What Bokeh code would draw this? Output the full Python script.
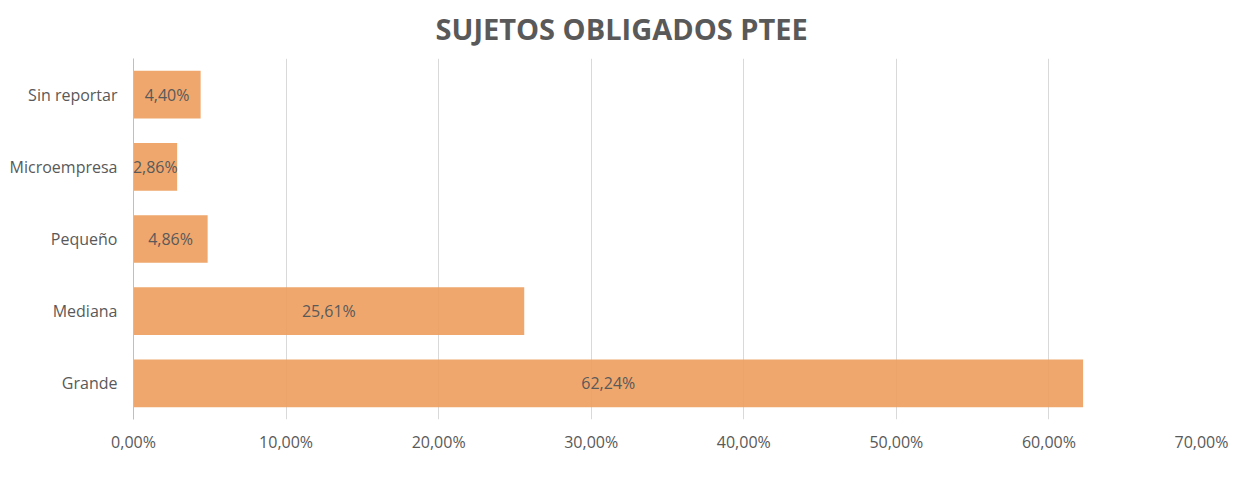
from bokeh.plotting import figure
from bokeh.models import ColumnDataSource, FactorRange, Range1d, FixedTicker, Legend, LegendItem, LabelSet, Title
from bokeh.embed import file_html
from bokeh.resources import INLINE
from bokeh.core.properties import value

categories = ["Grande", "Mediana", "Pequeño", "Microempresa", "Sin reportar"]
values = [62.24, 25.61, 4.86, 2.86, 4.40]
labels = ["62,24%", "25,61%", "4,86%", "2,86%", "4,40%"]
tick_values = [0, 10, 20, 30, 40, 50, 60, 70]
tick_labels = ["0,00%", "10,00%", "20,00%", "30,00%", "40,00%", "50,00%", "60,00%", "70,00%"]
series_name = "Sujetos Obligados PTEE"
title_text = "SUJETOS OBLIGADOS PTEE"

FONT = "Open Sans"
GRAY = "#595959"
BAR = "#EE9F62"

src = ColumnDataSource(dict(cat=categories, val=values, lab=labels,
                            mid=[v / 2 for v in values]))

p = figure(frame_width=1068, frame_height=361, y_range=FactorRange(*categories),
           x_range=Range1d(0, 70), output_backend="svg", toolbar_location=None,
           min_border_left=133, min_border_right=39, min_border_top=0,
           min_border_bottom=0)
p.outline_line_color = None
p.background_fill_color = "white"
p.border_fill_color = "white"

r = p.hbar(y="cat", right="val", left=0, height=0.66, source=src,
           fill_color=BAR, fill_alpha=0.92, line_color=None)

p.add_layout(LabelSet(x="mid", y="cat", text="lab", source=src,
                      text_align="center", text_baseline="middle",
                      text_font=value(FONT), text_font_size="16px",
                      text_color=GRAY))

p.xaxis.ticker = FixedTicker(ticks=tick_values)
p.xaxis.major_label_overrides = {v: l for v, l in zip(tick_values, tick_labels)}
p.xaxis.axis_line_color = None
p.xaxis.major_tick_line_color = None
p.xaxis.minor_tick_line_color = None
p.xaxis.major_tick_out = 0
p.xaxis.major_tick_in = 0
p.xaxis.minor_tick_out = 0
p.xaxis.major_label_standoff = 11
p.xaxis.major_label_text_font = FONT
p.xaxis.major_label_text_font_size = "16px"
p.xaxis.major_label_text_color = GRAY

p.yaxis.axis_line_color = "#BFBFBF"
p.yaxis.major_tick_line_color = None
p.yaxis.minor_tick_line_color = None
p.yaxis.major_tick_out = 0
p.yaxis.major_tick_in = 0
p.yaxis.minor_tick_out = 0
p.yaxis.major_label_standoff = 16
p.yaxis.major_label_text_font = FONT
p.yaxis.major_label_text_font_size = "16px"
p.yaxis.major_label_text_color = GRAY

p.xgrid.grid_line_color = "#D9D9D9"
p.ygrid.grid_line_color = None
p.y_range.range_padding = 0

title = Title(text=title_text, align="left", offset=302, vertical_align="top",
              text_font=FONT, text_font_size="29px", text_font_style="bold",
              text_color=GRAY, standoff=17)
p.add_layout(title, "above")

legend = Legend(items=[LegendItem(label=series_name, renderers=[r])],
                location=(404, 0), orientation="horizontal",
                label_text_font=FONT, label_text_font_size="16px",
                label_text_color=GRAY, border_line_color=None,
                background_fill_alpha=0, padding=0, margin=0,
                glyph_width=11, glyph_height=11, label_standoff=4,
                label_height=22)
p.add_layout(legend, "below")

open("out.html", "w").write(file_html(p, INLINE))
